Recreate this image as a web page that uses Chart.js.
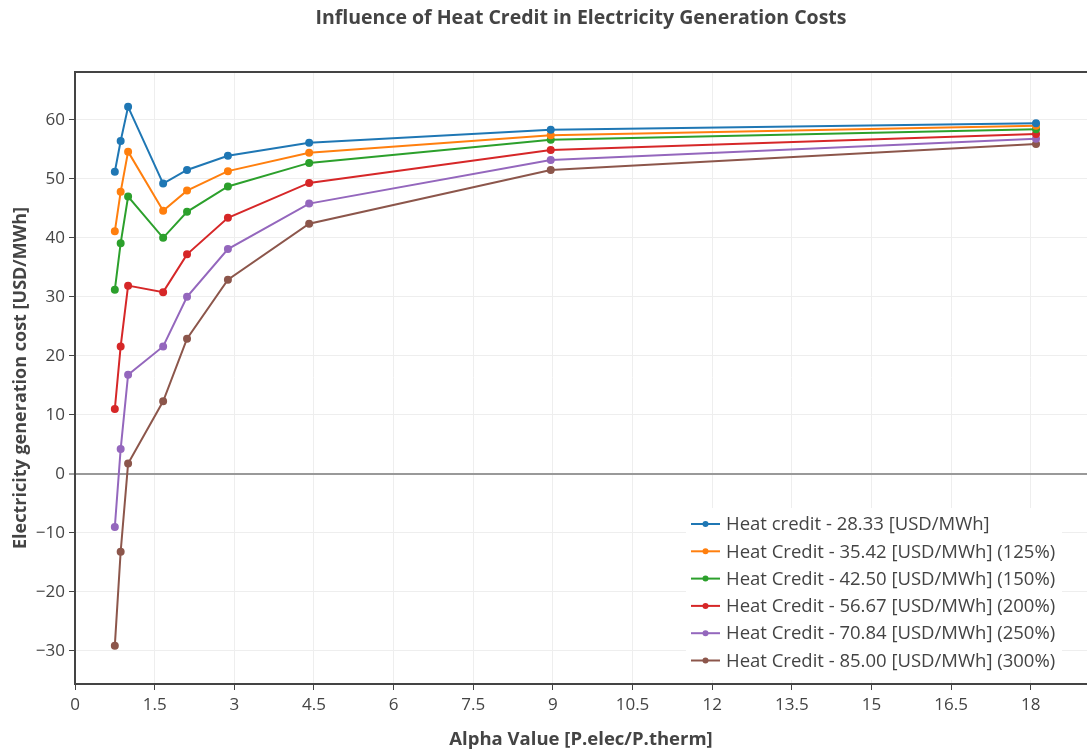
<!DOCTYPE html>
<html>
<head>
<meta charset="utf-8">
<script src="https://cdn.jsdelivr.net/npm/chart.js@4.4.1/dist/chart.umd.min.js"></script>
<style>
  html, body { margin: 0; padding: 0; background: #fff; }
  #wrap { width: 1087px; height: 751px; }
</style>
</head>
<body>
<div id="wrap"><canvas id="heatChart" width="1087" height="751"></canvas></div>
<script>
// alpha = P.elec / P.therm
const alpha = [0.75, 0.86, 1.0, 1.66, 2.11, 2.88, 4.41, 8.96, 18.1];

const credit100 = [51.2, 56.4, 62.2, 49.2, 51.5, 53.9, 56.1, 58.3, 59.4];
const credit125 = [41.1, 47.8, 54.6, 44.6, 48.0, 51.3, 54.4, 57.4, 59.0];
const credit150 = [31.2, 39.1, 47.0, 40.0, 44.4, 48.7, 52.7, 56.6, 58.4];
const credit200 = [11.0, 21.6, 31.9, 30.8, 37.2, 43.4, 49.3, 54.9, 57.6];
const credit250 = [-9.0, 4.2, 16.8, 21.6, 30.0, 38.1, 45.8, 53.2, 56.8];
const credit300 = [-29.1, -13.2, 1.75, 12.3, 22.9, 32.9, 42.4, 51.5, 55.9];

const seriesNames = [
    "Heat credit - 28.33 [USD/MWh]",
    "Heat Credit - 35.42 [USD/MWh] (125%)",
    "Heat Credit - 42.50 [USD/MWh] (150%)",
    "Heat Credit - 56.67 [USD/MWh] (200%)",
    "Heat Credit - 70.84 [USD/MWh] (250%)",
    "Heat Credit - 85.00 [USD/MWh] (300%)"
];
const seriesColors = ["#1f77b4", "#ff7f0e", "#2ca02c", "#d62728", "#9467bd", "#8c564b"];
const allSeries = [credit100, credit125, credit150, credit200, credit250, credit300];

const FONT = "'Open Sans', Verdana, Arial, sans-serif";
const TEXT = "#444";

const datasets = allSeries.map((vals, i) => ({
    label: seriesNames[i],
    data: vals.map((v, j) => ({ x: alpha[j], y: v })),
    borderColor: seriesColors[i],
    backgroundColor: seriesColors[i],
    borderWidth: 2,
    pointRadius: 3,
    pointHoverRadius: 4,
    tension: 0
}));

// title centred over the plot area, frame lines, and the legend box inside the plot
const decorations = {
    id: "decorations",
    afterDraw(chart) {
        const ctx = chart.ctx;
        const a = chart.chartArea;
        ctx.save();

        ctx.fillStyle = TEXT;
        ctx.font = "bold 19.5px " + FONT;
        ctx.textAlign = "center";
        ctx.textBaseline = "middle";
        ctx.fillText("Influence of Heat Credit in Electricity Generation Costs", (a.left + a.right) / 2, 18);

        ctx.strokeStyle = "#444";
        ctx.lineWidth = 2;
        ctx.beginPath();
        ctx.moveTo(a.left, a.bottom);
        ctx.lineTo(a.left, a.top);
        ctx.lineTo(a.right, a.top);
        ctx.stroke();

        // legend
        const bx = 686, by = 508, bw = 376, bh = 172, rowH = 27.3;
        ctx.fillStyle = "#fff";
        ctx.fillRect(bx, by, bw, bh);
        ctx.font = "18.5px " + FONT;
        ctx.textAlign = "left";
        chart.data.datasets.forEach((ds, i) => {
            const y = by + 16 + i * rowH;
            ctx.strokeStyle = ds.borderColor;
            ctx.lineWidth = 2;
            ctx.beginPath();
            ctx.moveTo(691, y);
            ctx.lineTo(720, y);
            ctx.stroke();
            ctx.fillStyle = ds.borderColor;
            ctx.beginPath();
            ctx.arc(705.5, y, 3, 0, Math.PI * 2);
            ctx.fill();
            ctx.fillStyle = TEXT;
            ctx.fillText(ds.label, 726, y + 1);
        });
        ctx.restore();
    }
};

new Chart(document.getElementById("heatChart"), {
    type: "line",
    data: { datasets: datasets },
    options: {
        responsive: false,
        animation: false,
        layout: { autoPadding: false, padding: { top: 72, right: 0, left: 0, bottom: 0 } },
        plugins: {
            legend: { display: false },
            title: { display: false },
            tooltip: { enabled: false }
        },
        scales: {
            x: {
                type: "linear",
                min: 0,
                max: 19.06,
                afterFit(scale) {
                    scale.height = 67;
                    scale.paddingRight = 0;
                    scale.paddingLeft = 0;
                },
                border: { display: true, color: "#444", width: 2 },
                grid: { color: "#eee", lineWidth: 1, tickLength: 6, tickColor: "#444", tickWidth: 1 },
                ticks: {
                    stepSize: 1.5,
                    includeBounds: false,
                    maxRotation: 0,
                    autoSkip: false,
                    padding: 5,
                    color: TEXT,
                    font: { family: FONT, size: 17 },
                    callback: v => String(Math.round(v * 10) / 10)
                },
                title: {
                    display: true,
                    text: "Alpha Value [P.elec/P.therm]",
                    color: TEXT,
                    font: { family: FONT, size: 18.5, weight: "bold" },
                    padding: { top: 0, bottom: 0 }
                }
            },
            y: {
                min: -35.6,
                max: 68.1,
                afterFit(scale) { scale.width = 75; },
                border: { display: false },
                grid: {
                    color: ctx => ctx.tick && ctx.tick.value === 0 ? "#999" : "#eee",
                    lineWidth: ctx => ctx.tick && ctx.tick.value === 0 ? 2 : 1,
                    tickLength: 6,
                    tickColor: "#444",
                    tickWidth: 1
                },
                ticks: {
                    stepSize: 10,
                    includeBounds: false,
                    padding: 4,
                    color: TEXT,
                    font: { family: FONT, size: 17 },
                    callback: v => String(v).replace("-", "\u2212")
                },
                title: {
                    display: true,
                    text: "Electricity generation cost [USD/MWh]",
                    color: TEXT,
                    font: { family: FONT, size: 18, weight: "bold" },
                    padding: { top: 10, bottom: 0 }
                }
            }
        }
    },
    plugins: [decorations]
});
</script>
</body>
</html>
